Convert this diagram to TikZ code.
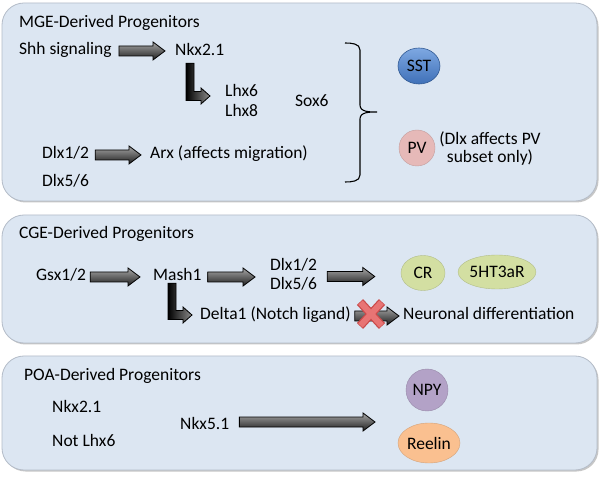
\documentclass[tikz,border=0pt]{standalone}
\usepackage{fontspec}
\setmainfont{Carlito}
\usetikzlibrary{calc}
\definecolor{panelfill}{HTML}{DCE6F2}
\definecolor{panelline}{HTML}{B4BCC8}
\definecolor{sstlight}{HTML}{7EA8E2}
\definecolor{sstdark}{HTML}{3F70B8}
\definecolor{pvfill}{HTML}{E6B9B8}
\definecolor{crfill}{HTML}{D3DFA2}
\definecolor{npyfill}{HTML}{B3A2C7}
\definecolor{reelfill}{HTML}{FAC090}
\definecolor{xdark}{HTML}{C94A4A}
\definecolor{xlight}{HTML}{E87474}
\tikzset{
  panel/.style={fill=panelfill, draw=panelline, line width=0.8pt, rounded corners=22pt},
  panelshadow/.style={fill=black!22, rounded corners=22pt},
  lbl/.style={anchor=west, inner sep=0pt, text height=12pt, text depth=4pt, font=\fontsize{17.5}{20}\selectfont},
  note/.style={inner sep=0pt, align=center, font=\fontsize{17.5}{18}\selectfont},
  cell/.style={ellipse, inner sep=0pt, font=\fontsize{17.5}{20}\selectfont},
  harrowstyle/.style={top color=black!35, bottom color=black!88, draw=black, line width=0.8pt},
  larrowstyle/.style={left color=black, right color=black!45, draw=black, line width=0.8pt},
  bracestyle/.style={draw=black, line width=1.1pt},
}
\newcommand\harrow[2]{\path[harrowstyle] let \p1=(#1), \p2=(#2) in
  (\x1,\y1+5pt) -- (\x2-12pt,\y1+5pt) -- (\x2-12pt,\y1+9pt) -- (\x2,\y1)
  -- (\x2-12pt,\y1-9pt) -- (\x2-12pt,\y1-5pt) -- (\x1,\y1-5pt) -- cycle;}
\newcommand\larrow[2]{\path[larrowstyle] let \p1=(#1), \p2=(#2) in
  (\x1-4pt,\y1) -- (\x1+4pt,\y1) -- (\x1+4pt,\y2+4.5pt) -- (\x2-9pt,\y2+4.5pt)
  -- (\x2-9pt,\y2+8pt) -- (\x2,\y2) -- (\x2-9pt,\y2-8pt) -- (\x2-9pt,\y2-4.5pt)
  -- (\x1-4pt,\y2-4.5pt) -- cycle;}
\usetikzlibrary{shapes.geometric}
\begin{document}
\begin{tikzpicture}[x=1pt,y=-1pt]
\useasboundingbox (0,0) rectangle (600,486);
\fill[white] (0,0) rectangle (600,486);
% panels
\fill[panelshadow] (3.5,4.5) rectangle (598.5,202.5);
\path[panel] (2,3) rectangle (597,201);
\fill[panelshadow] (3.5,216.5) rectangle (598.5,344.5);
\path[panel] (2,215) rectangle (597,343);
\fill[panelshadow] (3.5,357.5) rectangle (598.5,471.5);
\path[panel] (2,356) rectangle (597,470);

% ---------- MGE ----------
\node[lbl] (mge) at (19,24) {MGE-Derived Progenitors};
\node[lbl] (shh) at (19,51) {Shh signaling};
\node[lbl] (nkx) at (175,52) {Nkx2.1};
\node[lbl] (lhx6) at (225,93) {Lhx6};
\node[lbl] (lhx8) at (225,113) {Lhx8};
\node[lbl] (sox6) at (295,103) {Sox6};
\node[lbl] (dlxa) at (42,155) {Dlx1/2};
\node[lbl] (arx) at (150,155) {Arx (affects migration)};
\node[lbl] (dlxb) at (42,183) {Dlx5/6};
\node[cell, minimum width=42pt, minimum height=36pt, top color=sstlight, bottom color=sstdark, draw=sstdark!80!black, line width=0.6pt] (sst) at (419,66) {SST};
\node[cell, minimum width=36pt, minimum height=36pt, fill=pvfill, draw=pvfill!85!black, line width=0.4pt] (pv) at (417,148) {PV};
\node[note] (pvnote) at (490,149) {(Dlx affects PV\\subset only)};

\harrow{[xshift=7pt]shh.east}{[xshift=-10pt]nkx.west}
\larrow{[xshift=15pt,yshift=-3pt]nkx.south west}{[xshift=-15pt,yshift=-3pt]lhx6.west}
\harrow{[xshift=6pt]dlxa.east}{[xshift=-9pt]arx.west}

% brace
\coordinate (bt) at (345,43);
\coordinate (bm) at (377,112);
\coordinate (bb) at (345,182);
\draw[bracestyle] (bt) to[out=0,in=90] (360,50) -- (360,105)
  to[out=-90,in=180] (bm) to[out=180,in=90] (360,119) -- (360,175)
  to[out=-90,in=0] (bb);

% ---------- CGE ----------
\node[lbl] (cge) at (19,235) {CGE-Derived Progenitors};
\node[lbl] (gsx) at (36,277) {Gsx1/2};
\node[lbl] (mash) at (153,277) {Mash1};
\node[lbl] (dlxc) at (270,267) {Dlx1/2};
\node[lbl] (dlxd) at (270,286) {Dlx5/6};
\node[cell, minimum width=44pt, minimum height=35pt, fill=crfill, draw=crfill!85!black, line width=0.4pt] (cr) at (423,273) {CR};
\node[cell, minimum width=74pt, minimum height=34pt, fill=crfill, draw=crfill!85!black, line width=0.4pt] (ht) at (497,272) {5HT3aR};
\node[lbl] (delta) at (200,316) {Delta1 (Notch ligand)};
\node[lbl] (neur) at (403,316) {Neuronal differentiation};

\harrow{[xshift=4pt]gsx.east}{[xshift=-13pt]mash.west}
\harrow{[xshift=6pt]mash.east}{[xshift=-15pt]dlxc.west}
\harrow{$($(dlxc.east)!0.5!(dlxd.east)$)+(10pt,0)$}{[xshift=-26pt]cr.west}
\larrow{[xshift=19pt,yshift=2pt]mash.south west}{[xshift=-8pt,yshift=1pt]delta.west}
\harrow{[xshift=4pt]delta.east}{[xshift=-4pt]neur.west}

% red cross
\coordinate (xm) at (371,314);
\draw[xdark, line width=8.5pt] ([shift={(-11pt,-12pt)}]xm) -- ([shift={(11pt,12pt)}]xm);
\draw[xdark, line width=8.5pt] ([shift={(-11pt,12pt)}]xm) -- ([shift={(11pt,-12pt)}]xm);
\draw[xlight, line width=6pt] ([shift={(-10.5pt,-11.5pt)}]xm) -- ([shift={(10.5pt,11.5pt)}]xm);
\draw[xlight, line width=6pt] ([shift={(-10.5pt,11.5pt)}]xm) -- ([shift={(10.5pt,-11.5pt)}]xm);

% ---------- POA ----------
\node[lbl] (poa) at (24,377) {POA-Derived Progenitors};
\node[lbl] (nkxp) at (52,409) {Nkx2.1};
\node[lbl] (notl) at (52,442) {Not Lhx6};
\node[lbl] (nkx51) at (180,425) {Nkx5.1};
\node[cell, minimum width=42pt, minimum height=42pt, fill=npyfill, draw=npyfill!85!black, line width=0.4pt] (npy) at (427,390) {NPY};
\node[cell, minimum width=62pt, minimum height=40pt, fill=reelfill, draw=reelfill!85!black, line width=0.4pt] (reelin) at (429,443) {Reelin};
\coordinate (poaend) at (375,422);
\harrow{[xshift=10pt,yshift=3pt]nkx51.east}{poaend}
\end{tikzpicture}
\end{document}
